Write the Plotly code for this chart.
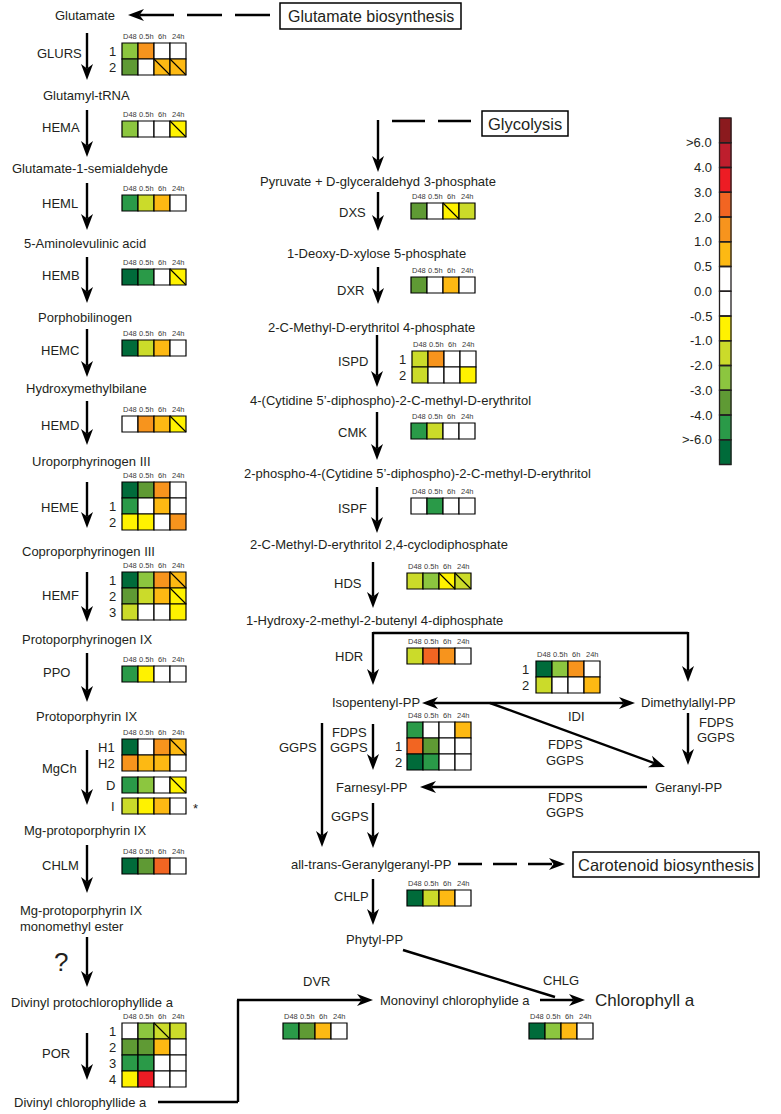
import numpy as np
import plotly.graph_objects as go

W, H = 781, 1114
FONT = "Liberation Sans, Arial, sans-serif"
INK = "#231F20"

# ---------------- data ----------------
TIMEPOINTS = ["D48", "0.5h", "6h", "24h"]
EDGES = [-6, -4, -3, -2, -1, -0.5, 0, 0.5, 1, 2, 3, 4, 6]
BIN_COLORS = ["#006B3A", "#2A9A48", "#5F9A34", "#8CC63F", "#CBDB2A", "#FFF200",
              "#FFFFFF", "#FFFFFF", "#FDB913", "#F7941D", "#F26522", "#ED1C24",
              "#BE1E2D", "#8B1A1E"]
CB_LABELS = [">6.0", "4.0", "3.0", "2.0", "1.0", "0.5", "0.0", "-0.5", "-1.0",
             "-2.0", "-3.0", "-4.0", ">-6.0"]

# log2 fold change classes per gene (rows = isoforms, cols = TIMEPOINTS)
GLURS = [[-2.5, 1.5, 0, 0], [-3.5, 0, 0.75, 0.75]]
HEMA = [[-2.5, 0, 0, -0.75]]
HEML = [[-5, -1.5, 0.75, 0]]
HEMB = [[-7, -5, 0, -0.75]]
HEMC = [[-7, -1.5, 0.75, 0]]
HEMD = [[0, 1.5, 0.75, -0.75]]
HEME = [[-7, -3.5, 1.5, 0], [-5, 0, 0.75, 0], [-0.75, -0.75, 0, 1.5]]
HEMF = [[-7, -2.5, 1.5, 0.75], [-3.5, -1.5, 0.75, -0.75], [-1.5, 0, 0, -0.75]]
PPO = [[-5, -0.75, 0, 0]]
MGCH_H = [[-7, 0, 1.5, 0.75], [1.5, 0.75, 0.75, 0]]
MGCH_D = [[-5, -2.5, 0, -0.75]]
MGCH_I = [[-1.5, -0.75, 0.75, 0]]
CHLM = [[-7, -3.5, 2.5, 0]]
POR = [[0, -2.5, -1.5, -1.5], [-3.5, -3.5, 0.75, 0], [-5, -5, 0, 0], [-0.75, 3.5, 0, 0]]
DXS = [[-3.5, 0, -0.75, -1.5]]
DXR = [[-3.5, 0, 0.75, 0]]
ISPD = [[-1.5, 1.5, 0, 0], [-1.5, 0, 0, -0.75]]
CMK = [[-5, -1.5, 0, 0]]
ISPF = [[0, -5, 0, 0]]
HDS = [[-1.5, -2.5, -0.75, -1.5]]
HDR = [[-1.5, 2.5, 1.5, 0]]
IDI = [[-7, -2.5, 1.5, 0], [-1.5, 0, 0, 0.75]]
FDPS = [[-5, 0, 0, 0.75], [2.5, -3.5, 0, 0], [-7, -5, 0, 0]]
CHLP = [[-7, -1.5, 0.75, 0]]
DVR = [[-5, -3.5, 0.75, 0]]
CHLG = [[-7, -2.5, 0.75, 0]]

# cells marked with a diagonal (row, col)
DIAG = {
    "GLURS": [(1, 2), (1, 3)], "HEMA": [(0, 3)], "HEMB": [(0, 3)], "HEMD": [(0, 3)],
    "HEMF": [(0, 3), (1, 3)], "MGCH_H": [(0, 3)], "MGCH_D": [(0, 3)], "POR": [(0, 2)],
    "DXS": [(0, 2)], "HDS": [(0, 2), (0, 3)],
}

# ---------------- layout of blocks (left x, top y, row labels, label x, header) -------------
CELL = 16
BLOCKS = [
    ("GLURS", GLURS, 122, 43, ["1", "2"], 112, True),
    ("HEMA", HEMA, 122, 121, None, 0, True),
    ("HEML", HEML, 122, 195, None, 0, True),
    ("HEMB", HEMB, 122, 269, None, 0, True),
    ("HEMC", HEMC, 122, 340, None, 0, True),
    ("HEMD", HEMD, 122, 416, None, 0, True),
    ("HEME", HEME, 122, 482, ["", "1", "2"], 112, True),
    ("HEMF", HEMF, 122, 572, ["1", "2", "3"], 112, True),
    ("PPO", PPO, 122, 666, None, 0, True),
    ("MGCH_H", MGCH_H, 122, 739, ["H1", "H2"], 117, True),
    ("MGCH_D", MGCH_D, 122, 777, ["D"], 117, False),
    ("MGCH_I", MGCH_I, 122, 798, ["I"], 117, False),
    ("CHLM", CHLM, 122, 858, None, 0, True),
    ("POR", POR, 122, 1023, ["1", "2", "3", "4"], 112, True),
    ("DXS", DXS, 411, 203, None, 0, True),
    ("DXR", DXR, 411, 277, None, 0, True),
    ("ISPD", ISPD, 412, 351, ["1", "2"], 402, True),
    ("CMK", CMK, 411, 423, None, 0, True),
    ("ISPF", ISPF, 411, 498, None, 0, True),
    ("HDS", HDS, 407, 573, None, 0, True),
    ("HDR", HDR, 407, 648, None, 0, True),
    ("IDI", IDI, 536, 661, ["1", "2"], 525, True),
    ("FDPS", FDPS, 407, 722, ["", "1", "2"], 398, True),
    ("CHLP", CHLP, 407, 890, None, 0, True),
    ("DVR", DVR, 283, 1023, None, 0, True),
    ("CHLG", CHLG, 529, 1023, None, 0, True),
]

shapes = []
annotations = []


def txt(x, y, s, size=13, anchor="center", color=INK):
    annotations.append(dict(x=x, y=y, xref="x", yref="y", text=s, showarrow=False,
                            xanchor=anchor, yanchor="middle",
                            font=dict(family=FONT, size=size, color=color)))


def line(pts, width=2.4, dash=None):
    for (x0, y0), (x1, y1) in zip(pts[:-1], pts[1:]):
        d = dict(type="line", xref="x", yref="y", x0=x0, y0=y0, x1=x1, y1=y1,
                 line=dict(color="black", width=width))
        if dash:
            d["line"]["dash"] = dash
        shapes.append(d)


def head(x0, y0, x1, y1, L=16, hw=6, notch=4.5):
    ux, uy = x1 - x0, y1 - y0
    n = (ux ** 2 + uy ** 2) ** 0.5
    ux, uy = ux / n, uy / n
    px, py = -uy, ux
    bx, by = x1 - ux * L, y1 - uy * L
    nx, ny = x1 - ux * (L - notch), y1 - uy * (L - notch)
    p = (f"M{x1},{y1} L{bx + px * hw},{by + py * hw} L{nx},{ny} "
         f"L{bx - px * hw},{by - py * hw} Z")
    shapes.append(dict(type="path", xref="x", yref="y", path=p, fillcolor="black",
                       line=dict(width=0)))
    return nx, ny


def arrow(x0, y0, x1, y1, dash=None):
    nx, ny = head(x0, y0, x1, y1)
    line([(x0, y0), (nx, ny)], dash=dash)


def box(x0, y0, x1, y1):
    shapes.append(dict(type="rect", xref="x", yref="y", x0=x0, y0=y0, x1=x1, y1=y1,
                       line=dict(color="black", width=1.5), fillcolor="rgba(0,0,0,0)"))


# ---------------- heat cells ----------------
cx, cy, cidx = [], [], []
dx, dy = [], []
for name, data, bx0, by0, rlabels, rlx, hdr in BLOCKS:
    arr = np.asarray(data, dtype=float)
    for r in range(arr.shape[0]):
        for c in range(arr.shape[1]):
            cx.append(bx0 + CELL / 2 + CELL * c)
            cy.append(by0 + CELL / 2 + CELL * r)
            cidx.append(int(np.digitize(arr[r, c], EDGES)))
    for (r, c) in DIAG.get(name, []):
        dx += [bx0 + CELL * c, bx0 + CELL * (c + 1), None]
        dy += [by0 + CELL * r, by0 + CELL * (r + 1), None]
    if hdr:
        for c, t in enumerate(TIMEPOINTS):
            txt(bx0 + CELL / 2 + CELL * c, by0 - 6.5, t, size=7.5, color="#3a3a3a")
    if rlabels:
        for r, t in enumerate(rlabels):
            if t:
                txt(rlx, by0 + CELL / 2 + CELL * r + 0.5, t, size=13,
                    anchor="right" if rlx == 117 else "center")

n = len(BIN_COLORS)
colorscale = []
for i, col in enumerate(BIN_COLORS):
    colorscale += [[i / n, col], [(i + 1) / n, col]]

fig = go.Figure()
fig.add_trace(go.Scatter(
    x=cx, y=cy, mode="markers", hoverinfo="skip",
    marker=dict(symbol="square", size=CELL, color=cidx, colorscale=colorscale,
                cmin=-0.5, cmax=n - 0.5, showscale=False,
                line=dict(color="black", width=1.2))))
fig.add_trace(go.Scatter(x=dx, y=dy, mode="lines", hoverinfo="skip",
                         line=dict(color="black", width=1.1)))

# ---------------- colour key ----------------
CB_X0, CB_X1, CB_TOP, CB_STEP = 719.5, 731, 118, 24.75
cb_edges = [CB_TOP + CB_STEP * k for k in range(n + 1)]
fig.add_trace(go.Heatmap(
    x=[CB_X0, CB_X1], y=cb_edges, z=[[n - 1 - k] for k in range(n)],
    colorscale=colorscale, zmin=-0.5, zmax=n - 0.5, showscale=False, hoverinfo="skip"))
for k in range(n):
    shapes.append(dict(type="rect", xref="x", yref="y", x0=CB_X0, x1=CB_X1,
                       y0=cb_edges[k], y1=cb_edges[k + 1],
                       line=dict(color="#231F20", width=1.3), fillcolor="rgba(0,0,0,0)"))
for k, t in enumerate(CB_LABELS):
    txt(714, cb_edges[k + 1], t, size=13, anchor="right")

# ---------------- metabolites ----------------
METS = [
    ("Glutamate", 85, 15), ("Glutamyl-tRNA", 86, 95), ("Glutamate-1-semialdehyde", 90, 168),
    ("5-Aminolevulinic acid", 85, 243), ("Porphobilinogen", 85, 317),
    ("Hydroxymethylbilane", 86, 388), ("Uroporphyrinogen III", 91, 461),
    ("Coproporphyrinogen III", 88, 551), ("Protoporphyrinogen IX", 87, 639),
    ("Protoporphyrin IX", 86, 716), ("Mg-protoporphyrin IX", 85, 830),
    ("Divinyl protochlorophyllide a", 92, 1002),
    ("Pyruvate + D-glyceraldehyd 3-phosphate", 378, 181),
    ("1-Deoxy-D-xylose 5-phosphate", 376, 253),
    ("2-C-Methyl-D-erythritol 4-phosphate", 371, 327),
    ("4-(Cytidine 5’-diphospho)-2-C-methyl-D-erythritol", 390, 400),
    ("2-C-Methyl-D-erythritol 2,4-cyclodiphosphate", 379, 544),
    ("1-Hydroxy-2-methyl-2-butenyl 4-diphosphate", 374, 620),
    ("Isopentenyl-PP", 376, 702), ("Dimethylallyl-PP", 688, 702),
    ("Farnesyl-PP", 372, 787), ("Geranyl-PP", 688, 787),
    ("all-trans-Geranylgeranyl-PP", 371, 864), ("Phytyl-PP", 374, 939),
    ("Monovinyl chlorophylide a", 455, 1000),
]
for s, x, y in METS:
    txt(x, y, s)
txt(18, 910, "Mg-protoporphyrin IX", anchor="left")
txt(18, 926, "monomethyl ester", anchor="left")
txt(12, 1102, "Divinyl chlorophyllide a", anchor="left")
txt(242, 473, "2-phospho-4-(Cytidine 5’-diphospho)-2-C-methyl-D-erythritol", anchor="left")
txt(645, 1000, "Chlorophyll a", size=17)
txt(61, 962, "?", size=26)
txt(195, 808, "*", size=13)

# ---------------- enzymes ----------------
ENZ = [
    ("GLURS", 59, 53), ("HEMA", 61, 127), ("HEML", 60, 203), ("HEMB", 61, 275),
    ("HEMC", 60, 350), ("HEMD", 60, 425), ("HEME", 60, 507), ("HEMF", 60, 595),
    ("PPO", 56, 672), ("MgCh", 59, 768), ("CHLM", 60, 865), ("POR", 56, 1053),
    ("DXS", 352, 212), ("DXR", 350, 290), ("ISPD", 353, 361), ("CMK", 352, 432),
    ("ISPF", 352, 508), ("HDS", 348, 583), ("HDR", 349, 656),
    ("FDPS", 349, 732), ("GGPS", 349, 747), ("GGPS", 298, 747), ("GGPS", 350, 816),
    ("CHLP", 351, 896), ("IDI", 576, 716), ("FDPS", 565, 744), ("GGPS", 565, 760),
    ("FDPS", 716, 722), ("GGPS", 716, 737), ("FDPS", 565, 797), ("GGPS", 565, 812),
    ("DVR", 316, 981), ("CHLG", 561, 980),
]
for s, x, y in ENZ:
    txt(x, y, s)

# ---------------- boxes ----------------
box(280, 3, 461, 29)
txt(370.5, 16, "Glutamate biosynthesis", size=16)
box(482, 111, 568, 136)
txt(525, 123.5, "Glycolysis", size=16.5)
box(573, 852, 759, 877)
txt(666, 864.5, "Carotenoid biosynthesis", size=16.5)

# ---------------- arrows ----------------
for y0, y1 in [(33, 80), (110, 157), (183, 230), (257, 303), (329, 377), (401, 445),
               (482, 528), (572, 622), (653, 702), (750, 805), (845, 893), (937, 987),
               (1033, 1080)]:
    arrow(87, y0, 87, y1)

nx, ny = head(270, 15, 128, 15)
line([(270, 15), (nx, ny)], dash="35px,13px")
line([(392, 121), (472, 121)], dash="33px,13px")

for x, y0, y1 in [(378, 120, 172), (378, 192, 231), (378, 267, 304), (377, 335, 387),
                  (377, 412, 460), (377, 487, 533), (373, 562, 608), (373, 724, 770),
                  (373, 803, 848), (373, 879, 925), (322, 723, 847), (688, 713, 765)]:
    arrow(x, y0, x, y1)

line([(373, 633), (688, 633)])
arrow(373, 632, 373, 685)
arrow(688, 632, 688, 682)
# IDI double arrow
a1 = head(528, 703, 422, 703)
a2 = head(528, 703, 635, 703)
line([a1, a2])
arrow(490, 703, 665, 767)
arrow(647, 787, 420, 787)
nx, ny = head(458, 864, 565, 864)
line([(458, 864), (nx, ny)], dash="24px,11px")
line([(403, 950), (555, 997)])
arrow(540, 1000, 585, 1000)
line([(158, 1102), (238, 1102), (238, 1000)])
arrow(237, 1000, 373, 1000)

fig.update_layout(
    width=W, height=H, margin=dict(l=0, r=0, t=0, b=0), autosize=False,
    paper_bgcolor="white", plot_bgcolor="white", showlegend=False,
    xaxis=dict(range=[0, W], visible=False, fixedrange=True),
    yaxis=dict(range=[H, 0], visible=False, fixedrange=True),
    shapes=shapes, annotations=annotations, hovermode=False,
)
fig.write_html("out.html", config={"displayModeBar": False},
               post_script="document.body.style.margin='0px';document.body.style.overflow='hidden';")
